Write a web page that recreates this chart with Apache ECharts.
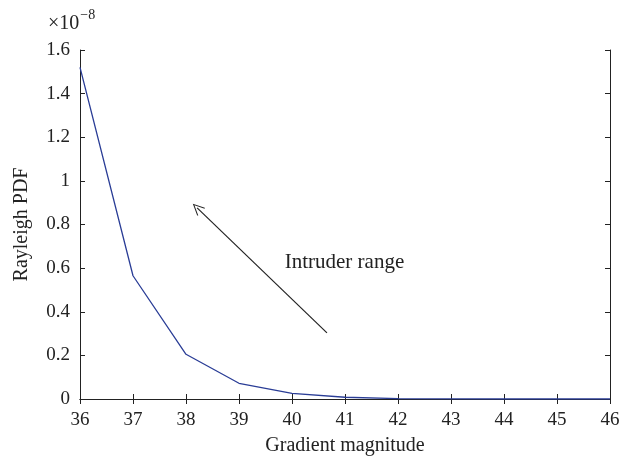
<!DOCTYPE html>
<html>
<head>
<meta charset="utf-8">
<script src="https://cdn.jsdelivr.net/npm/echarts@6/dist/echarts.min.js"></script>
<style>
html, body { margin: 0; padding: 0; background: #fff; }
#chart { width: 635px; height: 459px; }
</style>
</head>
<body>
<div id="chart"></div>
<script>
// data (y in units of 1e-8)
var gradient = [36, 37, 38, 39, 40, 41, 42, 43, 44, 45, 46];
var pdf = [1.52, 0.565, 0.205, 0.072, 0.026, 0.008, 0.002, 0.0005, 0.0001, 0, 0];
var yTicks = [0, 0.2, 0.4, 0.6, 0.8, 1, 1.2, 1.4, 1.6];
// arrow annotation, in data coords
var arrowFrom = [40.66, 0.303];
var arrowTo = [38.21, 0.876];
var labelAt = [40.99, 0.628];

var font = 'Liberation Serif';
var fs = 19;
var points = gradient.map(function (g, i) { return [g, pdf[i]]; });

var chart = echarts.init(document.getElementById('chart'));

var axisLine = { show: true, lineStyle: { color: '#222', width: 1 } };
var tick = { show: true, inside: true, length: 5, lineStyle: { color: '#222' } };

var option = {
    animation: false,
    backgroundColor: '#fff',
    title: {
        left: 43, top: 3,
        text: '{a|×10}{b|−8}',
        textStyle: {
            fontWeight: 'normal',
            rich: {
                a: { fontFamily: font, fontSize: 20, fontWeight: 'normal', color: '#222', verticalAlign: 'bottom', lineHeight: 26 },
                b: { fontFamily: font, fontSize: 14, fontWeight: 'normal', color: '#222', verticalAlign: 'top', lineHeight: 26, padding: [0, 0, 9, 1] }
            }
        }
    },
    grid: { left: 80, right: 25, top: 50, bottom: 60, containLabel: false, outerBoundsMode: 'none' },
    xAxis: [{
        type: 'value', min: 36, max: 46, interval: 1,
        name: 'Gradient magnitude', nameLocation: 'middle', nameGap: 37,
        nameTextStyle: { fontFamily: font, fontSize: 20, color: '#222' },
        axisLine: axisLine, axisTick: tick,
        axisLabel: { fontFamily: font, fontSize: fs, color: '#222', margin: 12 },
        splitLine: { show: false }
    }, {
        type: 'value', position: 'top', min: 36, max: 46, interval: 1,
        axisLine: axisLine, axisTick: tick, axisLabel: { show: false }, splitLine: { show: false }
    }],
    yAxis: [{
        type: 'value', min: 0, max: 1.6, interval: 0.2,
        name: 'Rayleigh PDF', nameLocation: 'middle', nameGap: 48,
        nameTextStyle: { fontFamily: font, fontSize: 20, color: '#222' },
        axisLine: axisLine, axisTick: tick,
        axisLabel: {
            fontFamily: font, fontSize: fs, color: '#222', margin: 10,
            formatter: function (v) {
                var t = yTicks.filter(function (k) { return Math.abs(k - v) < 1e-6; });
                return t.length ? String(t[0]) : '';
            }
        },
        splitLine: { show: false }
    }, {
        type: 'value', position: 'right', min: 0, max: 1.6, interval: 0.2,
        axisLine: axisLine, axisTick: tick, axisLabel: { show: false }, splitLine: { show: false }
    }],
    series: [{
        type: 'line',
        data: points,
        showSymbol: false,
        lineStyle: { color: '#2a3d96', width: 1.3 },
        itemStyle: { color: '#2a3d96' },
        markLine: {
            silent: true,
            symbol: ['none', 'path://M0,0 L6,11 L5,11.6 L0,2.2 L-5,11.6 L-6,11 Z'],
            symbolSize: [11, 12],
            lineStyle: { color: '#222', width: 1.2, type: 'solid' },
            label: { show: false },
            data: [[{ coord: arrowFrom }, { coord: arrowTo }]]
        }
    }, {
        type: 'scatter',
        silent: true,
        data: [labelAt],
        symbolSize: 1,
        itemStyle: { color: '#fff', opacity: 1 },
        label: {
            show: true, position: 'inside', formatter: 'Intruder range',
            fontFamily: font, fontSize: 21, color: '#222', opacity: 1,
            textBorderWidth: 0
        }
    }]
};

chart.setOption(option, true);
</script>
</body>
</html>
